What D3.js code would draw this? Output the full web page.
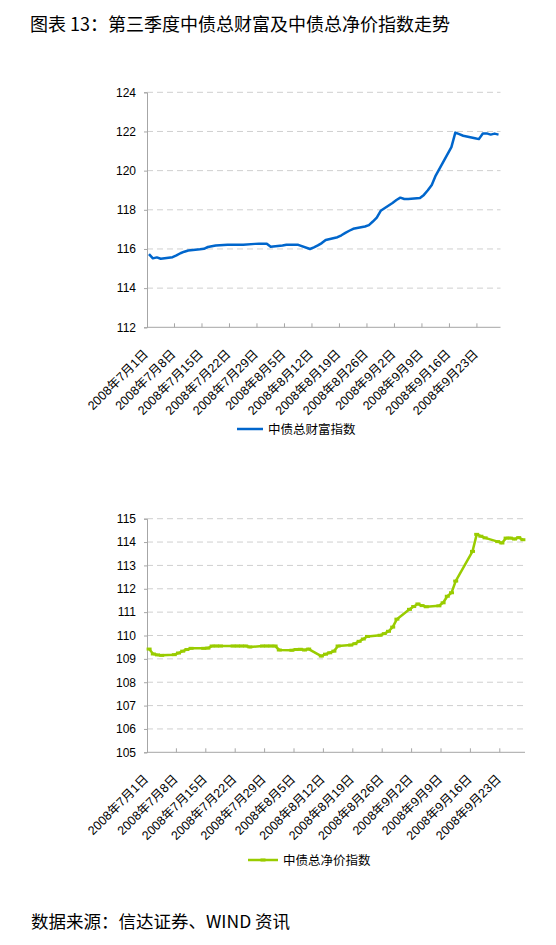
<!DOCTYPE html>
<html>
<head>
<meta charset="utf-8">
<script src="https://cdn.jsdelivr.net/npm/d3@7"></script>
<style>
  body { margin: 0; background: #fff; }
  svg { display: block; }
</style>
</head>
<body>
<svg id="viz"></svg>
<script>
// trading days, 2008 Q3
const tradeDates = [
  "2008-07-01","2008-07-02","2008-07-03","2008-07-04",
  "2008-07-07","2008-07-08","2008-07-09","2008-07-10","2008-07-11",
  "2008-07-14","2008-07-15","2008-07-16","2008-07-17","2008-07-18",
  "2008-07-21","2008-07-22","2008-07-23","2008-07-24","2008-07-25",
  "2008-07-28","2008-07-29","2008-07-30","2008-07-31","2008-08-01",
  "2008-08-04","2008-08-05","2008-08-06","2008-08-07","2008-08-08",
  "2008-08-11","2008-08-12","2008-08-13","2008-08-14","2008-08-15",
  "2008-08-18","2008-08-19","2008-08-20","2008-08-21","2008-08-22",
  "2008-08-25","2008-08-26","2008-08-27","2008-08-28","2008-08-29",
  "2008-09-01","2008-09-02","2008-09-03","2008-09-04","2008-09-05",
  "2008-09-08","2008-09-09","2008-09-10","2008-09-11","2008-09-12",
  "2008-09-16","2008-09-17","2008-09-18","2008-09-19",
  "2008-09-22","2008-09-23","2008-09-24","2008-09-25","2008-09-26",
  "2008-09-27","2008-09-28"
];

// 中债总财富指数
const wealthIndex = [
  115.74,115.52,115.57,115.50,
  115.58,115.67,115.78,115.86,115.92,
  115.98,116.01,116.10,116.14,116.18,
  116.21,116.22,116.22,116.22,116.22,
  116.26,116.27,116.27,116.27,116.11,
  116.18,116.22,116.22,116.22,116.21,
  116.00,116.08,116.18,116.30,116.46,
  116.60,116.70,116.82,116.93,117.03,
  117.15,117.22,117.40,117.60,117.95,
  118.35,118.50,118.62,118.55,118.55,
  118.60,118.76,119.00,119.27,119.75,
  121.20,121.94,121.86,121.78,
  121.65,121.61,121.90,121.90,121.84,
  121.89,121.84
];

// 中债总净价指数
const netPriceIndex = [
  109.42,109.21,109.17,109.15,
  109.18,109.25,109.33,109.40,109.45,
  109.45,109.46,109.55,109.55,109.55,
  109.55,109.55,109.55,109.55,109.51,
  109.55,109.55,109.55,109.55,109.38,
  109.37,109.40,109.41,109.38,109.42,
  109.12,109.20,109.26,109.33,109.55,
  109.59,109.65,109.75,109.85,109.96,
  110.01,110.08,110.18,110.36,110.70,
  111.12,111.24,111.35,111.28,111.23,
  111.27,111.40,111.68,111.83,112.33,
  113.60,114.33,114.25,114.18,
  114.02,113.96,114.17,114.17,114.13,
  114.19,114.10
];

const weekLabels = [
  "2008年7月1日","2008年7月8日","2008年7月15日","2008年7月22日","2008年7月29日",
  "2008年8月5日","2008年8月12日","2008年8月19日","2008年8月26日",
  "2008年9月2日","2008年9月9日","2008年9月16日","2008年9月23日"
];

const wealthTicks = [112, 114, 116, 118, 120, 122, 124];
const netTicks = [105, 106, 107, 108, 109, 110, 111, 112, 113, 114, 115];

const W = 556, H = 945;
const fontCN = '"Noto Sans CJK SC", sans-serif';
const fontMix = '"Liberation Sans", "Noto Sans CJK SC", sans-serif';
const axisColor = "#a6a6a6";

const svg = d3.select("#viz").attr("width", W).attr("height", H);

// every calendar day of the quarter is a slot on the date axis
const fmt = d3.timeFormat("%Y-%m-%d");
const allDays = d3.timeDays(new Date(2008, 6, 1), new Date(2008, 8, 29)).map(fmt);
const labelDays = allDays.filter((d, i) => i % 7 === 0);

function drawChart(cfg) {
  const g = svg.append("g");
  const x = d3.scaleBand().domain(allDays).range([cfg.x0, cfg.x1]);
  const bw = x.bandwidth();
  const y = d3.scaleLinear()
    .domain([cfg.ticks[0], cfg.ticks[cfg.ticks.length - 1]])
    .range([cfg.y1, cfg.y0]);

  // dashed gridlines
  g.selectAll(".grid")
    .data(cfg.ticks.slice(1))
    .join("line")
    .attr("x1", cfg.x0).attr("x2", cfg.x1)
    .attr("y1", d => y(d)).attr("y2", d => y(d))
    .attr("stroke", "#cfcfcf")
    .attr("stroke-width", 1)
    .attr("stroke-dasharray", "6,4");

  // y axis
  const yAxis = g.append("g")
    .attr("transform", `translate(${cfg.x0},0)`)
    .call(d3.axisLeft(y).tickValues(cfg.ticks).tickSize(3).tickPadding(8).tickFormat(d3.format("d")));
  yAxis.select(".domain").attr("stroke", axisColor);
  yAxis.selectAll(".tick line").attr("stroke", axisColor);
  yAxis.selectAll("text")
    .attr("font-family", fontMix).attr("font-size", 12).attr("fill", "#000");

  // x axis line + inward tick marks on week boundaries
  g.append("line")
    .attr("x1", cfg.x0).attr("x2", cfg.x1)
    .attr("y1", cfg.y1).attr("y2", cfg.y1)
    .attr("stroke", axisColor);
  g.selectAll(".xtick")
    .data(labelDays.slice(1))
    .join("line")
    .attr("x1", d => x(d)).attr("x2", d => x(d))
    .attr("y1", cfg.y1).attr("y2", cfg.y1 - 4)
    .attr("stroke", axisColor);

  // rotated date labels
  g.selectAll(".xlabel")
    .data(labelDays)
    .join("text")
    .attr("transform", d => `translate(${x(d) + bw / 2},${cfg.y1 + 27.5}) rotate(-45)`)
    .attr("text-anchor", "end")
    .attr("font-family", fontMix)
    .attr("font-size", 12.5)
    .attr("fill", "#000")
    .text((d, i) => weekLabels[i]);

  // series
  const pts = tradeDates.map((d, i) => ({ date: d, v: cfg.values[i] }));
  const line = d3.line().x(d => x(d.date) + bw / 2).y(d => y(d.v));
  g.append("path")
    .datum(pts)
    .attr("fill", "none")
    .attr("stroke", cfg.color)
    .attr("stroke-width", 2.5)
    .attr("stroke-linejoin", "round")
    .attr("d", line);

  if (cfg.markers) {
    g.selectAll(".mk")
      .data(pts)
      .join("rect")
      .attr("x", d => x(d.date) + bw / 2 - 2.5)
      .attr("y", d => y(d.v) - 1.5)
      .attr("width", 5).attr("height", 3)
      .attr("fill", cfg.color);
  }

  // legend
  const lg = g.append("g");
  lg.append("line")
    .attr("x1", cfg.legendX).attr("x2", cfg.legendX + cfg.legendLen)
    .attr("y1", cfg.legendY).attr("y2", cfg.legendY)
    .attr("stroke", cfg.color).attr("stroke-width", 2.5);
  if (cfg.markers) {
    lg.append("rect")
      .attr("x", cfg.legendX + cfg.legendLen / 2 - 2.5).attr("y", cfg.legendY - 1.5)
      .attr("width", 5).attr("height", 3).attr("fill", cfg.color);
  }
  lg.append("text")
    .attr("x", cfg.legendX + cfg.legendLen + 5)
    .attr("y", cfg.legendY)
    .attr("dy", "0.36em")
    .attr("font-family", fontCN)
    .attr("font-size", 12.5)
    .attr("fill", "#000")
    .text(cfg.name);
}

drawChart({
  x0: 147, x1: 500.5, y0: 92.3, y1: 327.3,
  ticks: wealthTicks, values: wealthIndex,
  color: "#0066cc", markers: false,
  name: "中债总财富指数",
  legendX: 237, legendLen: 26, legendY: 429
});

drawChart({
  x0: 147, x1: 525, y0: 518.7, y1: 752.3,
  ticks: netTicks, values: netPriceIndex,
  color: "#99cc00", markers: true,
  name: "中债总净价指数",
  legendX: 248, legendLen: 30, legendY: 860
});

// title and source
svg.append("text")
  .attr("x", 30).attr("y", 30.5)
  .attr("font-family", fontCN).attr("font-size", 18)
  .attr("fill", "#000")
  .text("图表 13：第三季度中债总财富及中债总净价指数走势");

svg.append("text")
  .attr("x", 31).attr("y", 927.5)
  .attr("font-family", fontCN).attr("font-size", 17.5)
  .attr("fill", "#000")
  .text("数据来源：信达证券、WIND 资讯");
</script>
</body>
</html>
